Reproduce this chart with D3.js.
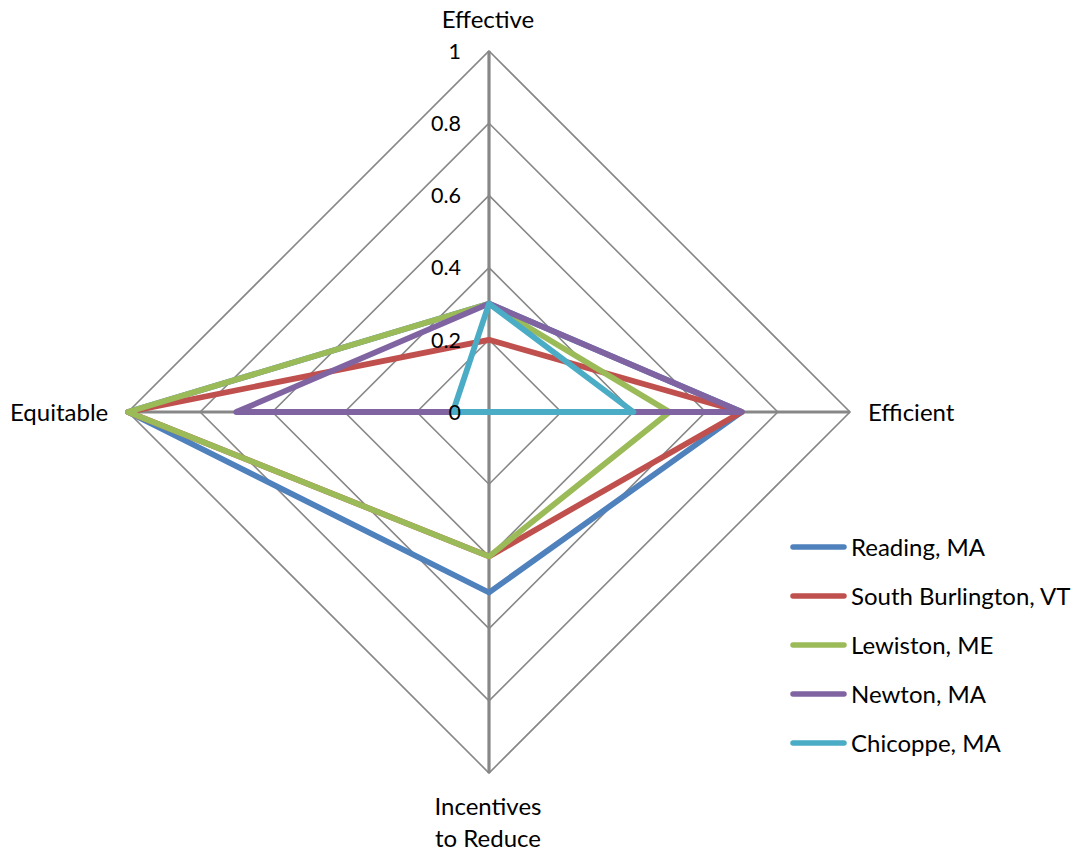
<!DOCTYPE html>
<html>
<head>
<meta charset="utf-8">
<script src="https://cdn.jsdelivr.net/npm/d3@7"></script>
<style>
  html, body { margin: 0; padding: 0; background: #fff; }
  svg text { font-family: Lato, "Open Sans", sans-serif; fill: #000; }
</style>
</head>
<body>
<svg id="chart" width="1081" height="853"></svg>
<script>
// Axes of the radar, clockwise from the top
const axes = ["Effective", "Efficient", "Incentives to Reduce", "Equitable"];
const tickValues = [0, 0.2, 0.4, 0.6, 0.8, 1];
const tickLabels = ["0", "0.2", "0.4", "0.6", "0.8", "1"];

// Series, each value in axis order
const seriesNames = ["Reading, MA", "South Burlington, VT", "Lewiston, ME", "Newton, MA", "Chicoppe, MA"];
const reading      = [0.3, 0.7, 0.5, 1.0];
const southBurl    = [0.2, 0.7, 0.4, 1.0];
const lewiston     = [0.3, 0.5, 0.4, 1.0];
const newton       = [0.3, 0.7, 0.0, 0.7];
const chicoppe     = [0.3, 0.4, 0.0, 0.1];
const seriesValues = [reading, southBurl, lewiston, newton, chicoppe];
const seriesColors = ["#4F81BD", "#C0504D", "#9BBB59", "#8064A2", "#4BACC6"];

const svg = d3.select("#chart");
const cx = 489, cy = 412, R = 361;
const r = d3.scaleLinear().domain([0, 1]).range([0, R]);
const angle = d3.scalePoint().domain(d3.range(axes.length)).range([-Math.PI / 2, -Math.PI / 2 + 2 * Math.PI * (axes.length - 1) / axes.length]);

const pt = (i, v) => [cx + r(v) * Math.cos(angle(i)), cy + r(v) * Math.sin(angle(i))];

const grid = svg.append("g");
// concentric rings
tickValues.filter(t => t > 0).forEach(t => {
  grid.append("polygon")
    .attr("points", axes.map((_, i) => pt(i, t).join(",")).join(" "))
    .attr("fill", "none")
    .attr("stroke", "#878787")
    .attr("stroke-width", 1.6);
});
// spokes
axes.forEach((_, i) => {
  const [x, y] = pt(i, 1);
  grid.append("line")
    .attr("x1", cx).attr("y1", cy).attr("x2", x).attr("y2", y)
    .attr("stroke", "#878787")
    .attr("stroke-width", 3.2);
});

// series polygons
const line = d3.line().curve(d3.curveLinearClosed);
const seriesG = svg.append("g");
seriesValues.forEach((vals, s) => {
  seriesG.append("path")
    .attr("d", line(vals.map((v, i) => pt(i, v))))
    .attr("fill", "none")
    .attr("stroke", seriesColors[s])
    .attr("stroke-width", 5.8)
    .attr("stroke-linejoin", "round")
    .attr("stroke-linecap", "round");
});

// tick labels along the top spoke
svg.append("g").selectAll("text")
  .data(tickValues)
  .join("text")
  .attr("x", cx - 28)
  .attr("y", t => cy - r(t))
  .attr("dy", "0.36em")
  .attr("text-anchor", "end")
  .attr("font-size", 21.5)
  .text((t, i) => tickLabels[i]);

// axis titles
const fs = 24;
const titles = svg.append("g").attr("font-size", fs);
titles.append("text").attr("x", cx - 1).attr("y", 28).attr("text-anchor", "middle").text(axes[0]);
titles.append("text").attr("x", 868).attr("y", 421).attr("text-anchor", "start").text(axes[1]);
const inc = titles.append("text").attr("x", cx - 1).attr("text-anchor", "middle");
inc.append("tspan").attr("x", cx - 1).attr("y", 815).text("Incentives");
inc.append("tspan").attr("x", cx - 1).attr("y", 847).text("to Reduce");
titles.append("text").attr("x", 10).attr("y", 421).attr("text-anchor", "start").text(axes[3]);

// legend
const legend = svg.append("g").attr("font-size", fs);
const legY = d3.scalePoint().domain(d3.range(seriesNames.length)).range([547, 743]);
seriesNames.forEach((name, s) => {
  const y = legY(s);
  legend.append("line")
    .attr("x1", 793).attr("x2", 844).attr("y1", y).attr("y2", y)
    .attr("stroke", seriesColors[s]).attr("stroke-width", 5.5)
    .attr("stroke-linecap", "round");
  legend.append("text").attr("x", 851).attr("y", y).attr("dy", "0.36em").text(name);
});
</script>
</body>
</html>
